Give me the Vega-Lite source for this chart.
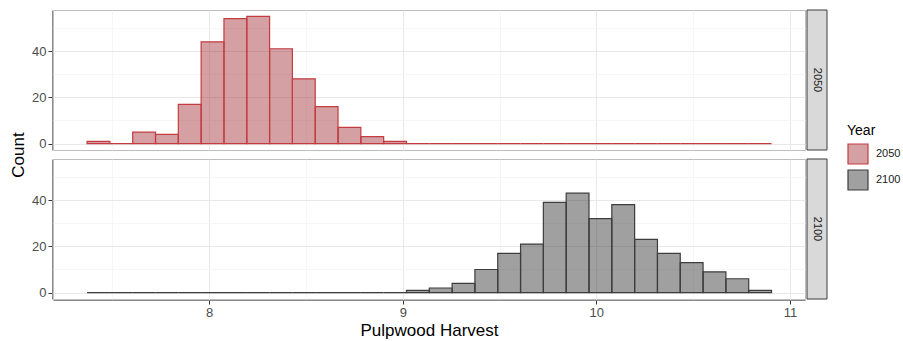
{
  "$schema": "https://vega.github.io/schema/vega-lite/v6.json",
  "padding": {"left": 10, "top": 9, "right": 5, "bottom": 5},
  "background": "white",
  "data": {"values": [
    {"year": "2050", "lo": 7.3690, "hi": 7.4869, "count": 1},
    {"year": "2050", "lo": 7.4869, "hi": 7.6047, "count": 0},
    {"year": "2050", "lo": 7.6047, "hi": 7.7226, "count": 5},
    {"year": "2050", "lo": 7.7226, "hi": 7.8405, "count": 4},
    {"year": "2050", "lo": 7.8405, "hi": 7.9583, "count": 17},
    {"year": "2050", "lo": 7.9583, "hi": 8.0762, "count": 44},
    {"year": "2050", "lo": 8.0762, "hi": 8.1941, "count": 54},
    {"year": "2050", "lo": 8.1941, "hi": 8.3119, "count": 55},
    {"year": "2050", "lo": 8.3119, "hi": 8.4298, "count": 41},
    {"year": "2050", "lo": 8.4298, "hi": 8.5477, "count": 28},
    {"year": "2050", "lo": 8.5477, "hi": 8.6655, "count": 16},
    {"year": "2050", "lo": 8.6655, "hi": 8.7834, "count": 7},
    {"year": "2050", "lo": 8.7834, "hi": 8.9013, "count": 3},
    {"year": "2050", "lo": 8.9013, "hi": 9.0191, "count": 1},
    {"year": "2050", "lo": 9.0191, "hi": 9.1370, "count": 0},
    {"year": "2050", "lo": 9.1370, "hi": 9.2549, "count": 0},
    {"year": "2050", "lo": 9.2549, "hi": 9.3727, "count": 0},
    {"year": "2050", "lo": 9.3727, "hi": 9.4906, "count": 0},
    {"year": "2050", "lo": 9.4906, "hi": 9.6085, "count": 0},
    {"year": "2050", "lo": 9.6085, "hi": 9.7263, "count": 0},
    {"year": "2050", "lo": 9.7263, "hi": 9.8442, "count": 0},
    {"year": "2050", "lo": 9.8442, "hi": 9.9621, "count": 0},
    {"year": "2050", "lo": 9.9621, "hi": 10.0799, "count": 0},
    {"year": "2050", "lo": 10.0799, "hi": 10.1978, "count": 0},
    {"year": "2050", "lo": 10.1978, "hi": 10.3157, "count": 0},
    {"year": "2050", "lo": 10.3157, "hi": 10.4335, "count": 0},
    {"year": "2050", "lo": 10.4335, "hi": 10.5514, "count": 0},
    {"year": "2050", "lo": 10.5514, "hi": 10.6693, "count": 0},
    {"year": "2050", "lo": 10.6693, "hi": 10.7871, "count": 0},
    {"year": "2050", "lo": 10.7871, "hi": 10.9050, "count": 0},
    {"year": "2100", "lo": 7.3690, "hi": 7.4869, "count": 0},
    {"year": "2100", "lo": 7.4869, "hi": 7.6047, "count": 0},
    {"year": "2100", "lo": 7.6047, "hi": 7.7226, "count": 0},
    {"year": "2100", "lo": 7.7226, "hi": 7.8405, "count": 0},
    {"year": "2100", "lo": 7.8405, "hi": 7.9583, "count": 0},
    {"year": "2100", "lo": 7.9583, "hi": 8.0762, "count": 0},
    {"year": "2100", "lo": 8.0762, "hi": 8.1941, "count": 0},
    {"year": "2100", "lo": 8.1941, "hi": 8.3119, "count": 0},
    {"year": "2100", "lo": 8.3119, "hi": 8.4298, "count": 0},
    {"year": "2100", "lo": 8.4298, "hi": 8.5477, "count": 0},
    {"year": "2100", "lo": 8.5477, "hi": 8.6655, "count": 0},
    {"year": "2100", "lo": 8.6655, "hi": 8.7834, "count": 0},
    {"year": "2100", "lo": 8.7834, "hi": 8.9013, "count": 0},
    {"year": "2100", "lo": 8.9013, "hi": 9.0191, "count": 0},
    {"year": "2100", "lo": 9.0191, "hi": 9.1370, "count": 1},
    {"year": "2100", "lo": 9.1370, "hi": 9.2549, "count": 2},
    {"year": "2100", "lo": 9.2549, "hi": 9.3727, "count": 4},
    {"year": "2100", "lo": 9.3727, "hi": 9.4906, "count": 10},
    {"year": "2100", "lo": 9.4906, "hi": 9.6085, "count": 17},
    {"year": "2100", "lo": 9.6085, "hi": 9.7263, "count": 21},
    {"year": "2100", "lo": 9.7263, "hi": 9.8442, "count": 39},
    {"year": "2100", "lo": 9.8442, "hi": 9.9621, "count": 43},
    {"year": "2100", "lo": 9.9621, "hi": 10.0799, "count": 32},
    {"year": "2100", "lo": 10.0799, "hi": 10.1978, "count": 38},
    {"year": "2100", "lo": 10.1978, "hi": 10.3157, "count": 23},
    {"year": "2100", "lo": 10.3157, "hi": 10.4335, "count": 17},
    {"year": "2100", "lo": 10.4335, "hi": 10.5514, "count": 13},
    {"year": "2100", "lo": 10.5514, "hi": 10.6693, "count": 9},
    {"year": "2100", "lo": 10.6693, "hi": 10.7871, "count": 6},
    {"year": "2100", "lo": 10.7871, "hi": 10.9050, "count": 1}
  ]},
  "spacing": 0,
  "hconcat": [
    {
      "facet": {"row": {"field": "year", "type": "nominal", "title": "Count",
        "header": {"labels": false, "titleOrient": "left", "titleFontSize": 17, "titleFontWeight": "normal", "titleColor": "#000000", "titlePadding": -7}}},
      "spacing": 7,
      "spec": {
        "width": 752,
        "height": 140,
        "mark": {"type": "bar", "strokeWidth": 1.2},
        "encoding": {
          "x": {
            "field": "lo", "type": "quantitative",
            "scale": {"domain": [7.193, 11.078], "nice": false, "zero": false},
            "axis": {
              "title": "Pulpwood Harvest",
              "values": [7.5, 8, 8.5, 9, 9.5, 10, 10.5, 11],
              "labelExpr": "datum.value % 1 === 0 ? format(datum.value, 'd') : ''",
              "tickOpacity": {"condition": {"test": "datum.value % 1 === 0", "value": 1}, "value": 0},
              "gridColor": {"condition": {"test": "datum.value % 1 === 0", "value": "#e8e8e8"}, "value": "#f4f4f4"},
              "gridWidth": {"condition": {"test": "datum.value % 1 === 0", "value": 1}, "value": 0.8}
            }
          },
          "x2": {"field": "hi"},
          "y": {
            "field": "count", "type": "quantitative",
            "scale": {"domain": [-2.75, 57.75], "nice": false, "zero": false},
            "axis": {
              "title": null,
              "values": [0, 10, 20, 30, 40, 50],
              "labelExpr": "datum.value % 20 === 0 ? datum.label : ''",
              "tickOpacity": {"condition": {"test": "datum.value % 20 === 0", "value": 1}, "value": 0},
              "gridColor": {"condition": {"test": "datum.value % 20 === 0", "value": "#e8e8e8"}, "value": "#f4f4f4"},
              "gridWidth": {"condition": {"test": "datum.value % 20 === 0", "value": 1}, "value": 0.8}
            }
          },
          "y2": {"datum": 0},
          "fill": {
            "field": "year", "type": "nominal",
            "scale": {"domain": ["2050", "2100"], "range": ["rgba(160,44,53,0.45)", "rgba(44,44,44,0.45)"]},
            "legend": {"title": "Year"}
          },
          "stroke": {
            "field": "year", "type": "nominal",
            "scale": {"domain": ["2050", "2100"], "range": ["#c43c40", "#3d3d3d"]},
            "legend": {"title": "Year"}
          }
        }
      }
    },
    {
      "transform": [{"aggregate": [{"op": "count", "as": "n"}], "groupby": ["year"]}],
      "facet": {"row": {"field": "year", "type": "nominal", "title": null, "header": {"labels": false, "title": null}}},
      "spacing": 7,
      "spec": {
        "width": 20,
        "height": 140,
        "layer": [
          {"mark": {"type": "rect", "fill": "#d9d9d9", "stroke": "#3a3a3a", "strokeWidth": 1}, "encoding": {}},
          {"mark": {"type": "text", "angle": 90, "fontSize": 11, "font": "Liberation Sans", "color": "#1a1a1a", "baseline": "middle", "align": "center"},
           "encoding": {"text": {"field": "year", "type": "nominal"}}}
        ]
      }
    }
  ],
  "config": {
    "font": "Liberation Sans",
    "view": {"stroke": "#bdbdbd"},
    "axis": {
      "domainColor": "#8a8a8a",
      "tickColor": "#333333",
      "tickSize": 4,
      "labelColor": "#4d4d4d",
      "labelFontSize": 13,
      "labelPadding": 2,
      "titleFontSize": 17,
      "titleFontWeight": "normal",
      "titleColor": "#000000",
      "titlePadding": 3
    },
    "legend": {
      "orient": "none",
      "legendX": 794,
      "legendY": 114,
      "titleFontSize": 14,
      "titleFontWeight": "normal",
      "titleColor": "#000000",
      "labelFontSize": 11,
      "labelColor": "#1a1a1a",
      "symbolType": "square",
      "symbolSize": 400,
      "symbolStrokeWidth": 1.2,
      "rowPadding": 0,
      "labelOffset": 7,
      "titlePadding": 5
    }
  }
}
